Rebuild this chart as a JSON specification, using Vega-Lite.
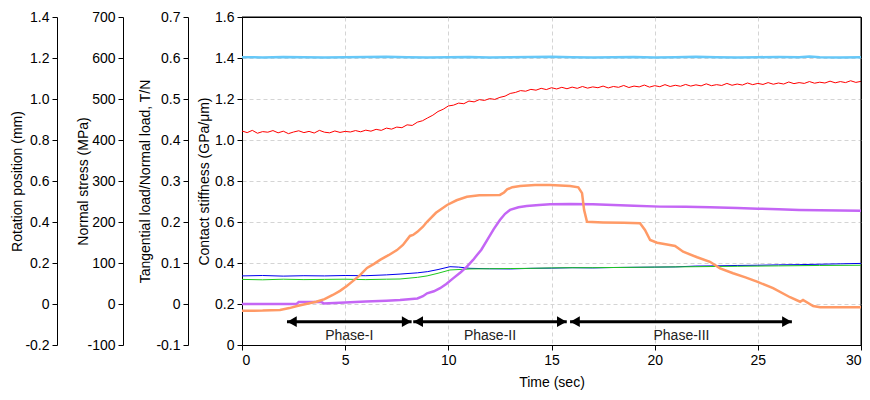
{
  "$schema": "https://vega.github.io/schema/vega-lite/v6.json",
  "width": 619,
  "height": 328,
  "autosize": {"type": "none"},
  "padding": {"left": 242, "top": 17, "right": 9, "bottom": 55},
  "background": "white",
  "view": {"stroke": "#000000", "strokeWidth": 1},
  "config": {
    "view": {"stroke": "#000000", "strokeWidth": 1},
    "font": "Liberation Sans",
    "axis": {
      "labelFont": "Liberation Sans", "titleFont": "Liberation Sans",
      "labelFontSize": 14, "titleFontSize": 14, "titleFontWeight": "normal",
      "labelColor": "#000000", "titleColor": "#000000",
      "domainColor": "#000000", "tickColor": "#000000",
      "tickSize": 5, "labelPadding": 3,
      "gridColor": "#d4d4d4", "gridDash": [4, 3]
    }
  },
  "datasets": {
    "red": [
      {"t":0,"v":1.044},{"t":0.25,"v":1.036},{"t":0.5,"v":1.047},{"t":0.75,"v":1.033},{"t":1,"v":1.041},{"t":1.25,"v":1.038},{"t":1.5,"v":1.046},{"t":1.75,"v":1.035},
      {"t":2,"v":1.043},{"t":2.25,"v":1.031},{"t":2.5,"v":1.039},{"t":2.75,"v":1.045},{"t":3,"v":1.036},{"t":3.25,"v":1.042},{"t":3.5,"v":1.034},{"t":3.75,"v":1.047},
      {"t":4,"v":1.038},{"t":4.25,"v":1.035},{"t":4.5,"v":1.044},{"t":4.75,"v":1.037},{"t":5,"v":1.042},{"t":5.25,"v":1.039},{"t":5.5,"v":1.046},{"t":5.75,"v":1.040},
      {"t":6,"v":1.048},{"t":6.25,"v":1.043},{"t":6.5,"v":1.052},{"t":6.75,"v":1.047},{"t":7,"v":1.058},{"t":7.25,"v":1.053},{"t":7.5,"v":1.063},{"t":7.75,"v":1.060},
      {"t":8,"v":1.074},{"t":8.25,"v":1.071},{"t":8.5,"v":1.087},{"t":8.75,"v":1.094},{"t":9,"v":1.108},{"t":9.25,"v":1.121},{"t":9.5,"v":1.139},{"t":9.75,"v":1.150},
      {"t":10,"v":1.166},{"t":10.25,"v":1.170},{"t":10.5,"v":1.180},{"t":10.75,"v":1.177},{"t":11,"v":1.190},{"t":11.25,"v":1.186},{"t":11.5,"v":1.197},{"t":11.75,"v":1.193},
      {"t":12,"v":1.202},{"t":12.25,"v":1.198},{"t":12.5,"v":1.208},{"t":12.75,"v":1.214},{"t":13,"v":1.227},{"t":13.25,"v":1.232},{"t":13.5,"v":1.241},{"t":13.75,"v":1.238},
      {"t":14,"v":1.247},{"t":14.25,"v":1.243},{"t":14.5,"v":1.252},{"t":14.75,"v":1.246},{"t":15,"v":1.255},{"t":15.25,"v":1.249},{"t":15.5,"v":1.257},{"t":15.75,"v":1.250},
      {"t":16,"v":1.258},{"t":16.25,"v":1.252},{"t":16.5,"v":1.261},{"t":16.75,"v":1.253},{"t":17,"v":1.259},{"t":17.25,"v":1.255},{"t":17.5,"v":1.263},{"t":17.75,"v":1.254},
      {"t":18,"v":1.261},{"t":18.25,"v":1.257},{"t":18.5,"v":1.266},{"t":18.75,"v":1.256},{"t":19,"v":1.263},{"t":19.25,"v":1.259},{"t":19.5,"v":1.268},{"t":19.75,"v":1.258},
      {"t":20,"v":1.265},{"t":20.25,"v":1.260},{"t":20.5,"v":1.270},{"t":20.75,"v":1.261},{"t":21,"v":1.267},{"t":21.25,"v":1.262},{"t":21.5,"v":1.271},{"t":21.75,"v":1.263},
      {"t":22,"v":1.269},{"t":22.25,"v":1.264},{"t":22.5,"v":1.274},{"t":22.75,"v":1.265},{"t":23,"v":1.270},{"t":23.25,"v":1.266},{"t":23.5,"v":1.276},{"t":23.75,"v":1.267},
      {"t":24,"v":1.273},{"t":24.25,"v":1.268},{"t":24.5,"v":1.278},{"t":24.75,"v":1.270},{"t":25,"v":1.276},{"t":25.25,"v":1.271},{"t":25.5,"v":1.280},{"t":25.75,"v":1.272},
      {"t":26,"v":1.278},{"t":26.25,"v":1.273},{"t":26.5,"v":1.283},{"t":26.75,"v":1.275},{"t":27,"v":1.280},{"t":27.25,"v":1.276},{"t":27.5,"v":1.285},{"t":27.75,"v":1.277},
      {"t":28,"v":1.282},{"t":28.25,"v":1.278},{"t":28.5,"v":1.287},{"t":28.75,"v":1.279},{"t":29,"v":1.285},{"t":29.25,"v":1.280},{"t":29.5,"v":1.289},{"t":29.75,"v":1.281},
      {"t":30,"v":1.286}
    ],
    "blue": [
      {"t":0,"v":0.337},{"t":1,"v":0.339},{"t":2,"v":0.336},{"t":3,"v":0.338},{"t":4,"v":0.337},{"t":5,"v":0.339},{"t":6,"v":0.338},{"t":7,"v":0.342},
      {"t":7.66,"v":0.346},{"t":8.5,"v":0.352},{"t":9,"v":0.358},{"t":9.5,"v":0.368},{"t":10.08,"v":0.382},{"t":10.5,"v":0.380},{"t":11.05,"v":0.374},{"t":12,"v":0.372},
      {"t":13,"v":0.371},{"t":14,"v":0.374},{"t":15,"v":0.375},{"t":16,"v":0.377},{"t":17,"v":0.376},{"t":18,"v":0.378},{"t":19,"v":0.379},{"t":20,"v":0.380},
      {"t":21,"v":0.381},{"t":22,"v":0.385},{"t":23,"v":0.386},{"t":24,"v":0.388},{"t":25,"v":0.389},{"t":26,"v":0.391},{"t":27,"v":0.392},{"t":28,"v":0.394},
      {"t":29,"v":0.396},{"t":30,"v":0.398}
    ],
    "green": [
      {"t":0,"v":0.320},{"t":1,"v":0.318},{"t":2,"v":0.321},{"t":3,"v":0.319},{"t":4,"v":0.320},{"t":5,"v":0.321},{"t":6,"v":0.319},{"t":7,"v":0.321},
      {"t":7.66,"v":0.322},{"t":8.5,"v":0.330},{"t":8.97,"v":0.337},{"t":9.5,"v":0.350},{"t":10.08,"v":0.366},{"t":11.05,"v":0.371},{"t":12,"v":0.372},{"t":13,"v":0.373},
      {"t":14,"v":0.374},{"t":15,"v":0.376},{"t":16,"v":0.377},{"t":17,"v":0.377},{"t":18,"v":0.378},{"t":19,"v":0.379},{"t":20,"v":0.380},{"t":22,"v":0.382},
      {"t":24,"v":0.384},{"t":26,"v":0.386},{"t":28,"v":0.388},{"t":30,"v":0.389}
    ],
    "stress": [
      {"t":0,"v":602},{"t":1,"v":601.5},{"t":2,"v":602.5},{"t":3,"v":602},{"t":4,"v":601},{"t":5,"v":602},{"t":6,"v":602.5},{"t":7,"v":603},
      {"t":8,"v":602},{"t":9,"v":601.5},{"t":10,"v":602},{"t":11,"v":602.5},{"t":12,"v":601},{"t":13,"v":602},{"t":14,"v":602.5},{"t":15,"v":603},
      {"t":16,"v":602},{"t":17,"v":601.5},{"t":18,"v":602},{"t":19,"v":602.5},{"t":20,"v":601.5},{"t":21,"v":602},{"t":22,"v":603},{"t":23,"v":602},
      {"t":24,"v":601.5},{"t":25,"v":602},{"t":26,"v":602.5},{"t":27,"v":602},{"t":27.5,"v":603.5},{"t":28,"v":602},{"t":29,"v":601.5},{"t":30,"v":602}
    ],
    "ratio": [
      {"t":0,"v":-0.0165},{"t":1,"v":-0.016},{"t":1.84,"v":-0.0145},{"t":2.3,"v":-0.01},{"t":2.67,"v":-0.005},{"t":3.1,"v":0.0},{"t":3.6,"v":0.0055},{"t":4,"v":0.012},
      {"t":4.4,"v":0.022},{"t":4.75,"v":0.032},{"t":5.08,"v":0.044},{"t":5.4,"v":0.057},{"t":5.72,"v":0.0705},{"t":6.06,"v":0.088},{"t":6.4,"v":0.098},{"t":6.69,"v":0.1075},
      {"t":7.1,"v":0.119},{"t":7.51,"v":0.1315},{"t":7.8,"v":0.144},{"t":8.14,"v":0.166},{"t":8.29,"v":0.1685},{"t":8.5,"v":0.176},{"t":8.77,"v":0.1885},{"t":8.97,"v":0.2005},
      {"t":9.4,"v":0.2225},{"t":9.94,"v":0.2415},{"t":10.4,"v":0.253},{"t":10.9,"v":0.2615},{"t":11.5,"v":0.265},{"t":12.5,"v":0.266},{"t":12.7,"v":0.272},{"t":12.85,"v":0.2795},
      {"t":13.1,"v":0.285},{"t":13.48,"v":0.288},{"t":14.2,"v":0.29},{"t":14.93,"v":0.29},{"t":15.9,"v":0.288},{"t":16.3,"v":0.2845},{"t":16.48,"v":0.2705},{"t":16.58,"v":0.2295},
      {"t":16.72,"v":0.2005},{"t":17.5,"v":0.199},{"t":18.5,"v":0.198},{"t":19.29,"v":0.197},{"t":19.53,"v":0.1805},{"t":19.78,"v":0.156},{"t":20.12,"v":0.1495},{"t":20.6,"v":0.145},
      {"t":20.99,"v":0.1415},{"t":21.38,"v":0.1275},{"t":22.06,"v":0.114},{"t":22.68,"v":0.103},{"t":23.17,"v":0.087},{"t":23.8,"v":0.075},{"t":24.4,"v":0.065},{"t":24.96,"v":0.0545},
      {"t":25.74,"v":0.0385},{"t":26.56,"v":0.0165},{"t":27.05,"v":0.0055},{"t":27.19,"v":0.01},{"t":27.68,"v":-0.005},{"t":28.02,"v":-0.008},{"t":29,"v":-0.008},{"t":30,"v":-0.008}
    ],
    "rotation": [
      {"t":0,"v":0.0},{"t":1,"v":0.0},{"t":2,"v":0.0},{"t":2.65,"v":0.0},{"t":2.75,"v":0.01},{"t":3.3,"v":0.01},{"t":3.85,"v":0.01},{"t":3.95,"v":0.003},
      {"t":5,"v":0.007},{"t":6,"v":0.012},{"t":7,"v":0.016},{"t":7.66,"v":0.02},{"t":8.5,"v":0.027},{"t":8.77,"v":0.038},{"t":8.97,"v":0.052},{"t":9.3,"v":0.062},
      {"t":9.6,"v":0.077},{"t":9.9,"v":0.098},{"t":10.23,"v":0.125},{"t":10.6,"v":0.155},{"t":10.9,"v":0.182},{"t":11.2,"v":0.215},{"t":11.39,"v":0.239},{"t":11.6,"v":0.265},
      {"t":11.88,"v":0.312},{"t":12.2,"v":0.365},{"t":12.5,"v":0.41},{"t":12.75,"v":0.44},{"t":12.99,"v":0.459},{"t":13.4,"v":0.472},{"t":13.8,"v":0.478},{"t":14.4,"v":0.483},
      {"t":14.93,"v":0.486},{"t":15.9,"v":0.488},{"t":17,"v":0.486},{"t":18,"v":0.483},{"t":19,"v":0.479},{"t":20.26,"v":0.475},{"t":21.5,"v":0.474},{"t":22.68,"v":0.472},
      {"t":24,"v":0.468},{"t":25,"v":0.465},{"t":26,"v":0.462},{"t":27,"v":0.459},{"t":28,"v":0.457},{"t":29,"v":0.456},{"t":30,"v":0.455}
    ],
    "phases": [
      {"label":"Phase-I","start":2.18,"end":8.22,"mid":5.2,"ay":0.114,"ty":0.044},
      {"label":"Phase-II","start":8.3,"end":15.74,"mid":12.02,"ay":0.114,"ty":0.044},
      {"label":"Phase-III","start":15.9,"end":26.65,"mid":21.3,"ay":0.114,"ty":0.044}
    ]
  },
  "layer": [
    {
      "data": {"name": "red"},
      "mark": {"type": "line", "color": "#ff0000", "strokeWidth": 1},
      "encoding": {
        "x": {"field": "t", "type": "quantitative", "scale": {"domain": [0, 30], "nice": false},
              "axis": {"title": "Time (sec)", "values": [0,5,10,15,20,25,30], "format": "d", "grid": true, "titlePadding": 8,
                       "gridOpacity": {"condition": {"test": "datum.value == 0 || datum.value == 30", "value": 0}, "value": 1}}},
        "y": {"field": "v", "type": "quantitative", "scale": {"domain": [0, 1.6], "nice": false, "zero": false},
              "axis": {"title": "Contact stiffness (GPa/μm)", "orient": "left", "offset": 0, "grid": true,
                       "values": [0,0.2,0.4,0.6,0.8,1.0,1.2,1.4,1.6],
                       "gridOpacity": {"condition": {"test": "datum.value == 0 || datum.value == 1.6", "value": 0}, "value": 1},
                       "labelExpr": "datum.value == 0 ? '0' : format(datum.value, '.1f')", "titlePadding": 3}}
      }
    },
    {
      "data": {"values": [{}]},
      "mark": {"type": "rule", "color": "#000000", "strokeWidth": 1},
      "encoding": {
        "y": {"datum": 1.6, "type": "quantitative", "scale": {"domain": [0, 1.6], "nice": false, "zero": false}, "axis": null}
      }
    },
    {
      "data": {"values": [{}]},
      "mark": {"type": "rule", "color": "#000000", "strokeWidth": 1},
      "encoding": {
        "x": {"datum": 30, "type": "quantitative", "title": "Time (sec)"}
      }
    },
    {
      "data": {"name": "blue"},
      "mark": {"type": "line", "color": "#0000ee", "strokeWidth": 1},
      "encoding": {
        "x": {"field": "t", "type": "quantitative", "title": "Time (sec)"},
        "y": {"field": "v", "type": "quantitative", "scale": {"domain": [0, 1.6], "nice": false, "zero": false}, "axis": null}
      }
    },
    {
      "data": {"name": "green"},
      "mark": {"type": "line", "color": "#1ec81e", "strokeWidth": 1},
      "encoding": {
        "x": {"field": "t", "type": "quantitative", "title": "Time (sec)"},
        "y": {"field": "v", "type": "quantitative", "scale": {"domain": [0, 1.6], "nice": false, "zero": false}, "axis": null}
      }
    },
    {
      "data": {"name": "phases"},
      "mark": {"type": "rule", "color": "#000000", "strokeWidth": 3},
      "encoding": {
        "x": {"field": "start", "type": "quantitative", "title": "Time (sec)"},
        "x2": {"field": "end"},
        "y": {"field": "ay", "type": "quantitative", "scale": {"domain": [0, 1.6], "nice": false, "zero": false}, "axis": null}
      }
    },
    {
      "data": {"name": "phases"},
      "mark": {"type": "point", "shape": "triangle-left", "filled": true, "color": "#000000", "size": 120, "opacity": 1, "xOffset": 5},
      "encoding": {
        "x": {"field": "start", "type": "quantitative", "title": "Time (sec)"},
        "y": {"field": "ay", "type": "quantitative", "scale": {"domain": [0, 1.6], "nice": false, "zero": false}, "axis": null}
      }
    },
    {
      "data": {"name": "phases"},
      "mark": {"type": "point", "shape": "triangle-right", "filled": true, "color": "#000000", "size": 120, "opacity": 1, "xOffset": -5},
      "encoding": {
        "x": {"field": "end", "type": "quantitative", "title": "Time (sec)"},
        "y": {"field": "ay", "type": "quantitative", "scale": {"domain": [0, 1.6], "nice": false, "zero": false}, "axis": null}
      }
    },
    {
      "data": {"name": "phases"},
      "mark": {"type": "text", "font": "Liberation Sans", "fontSize": 14, "color": "#222222", "baseline": "middle", "align": "center"},
      "encoding": {
        "x": {"field": "mid", "type": "quantitative", "title": "Time (sec)"},
        "y": {"field": "ty", "type": "quantitative", "scale": {"domain": [0, 1.6], "nice": false, "zero": false}, "axis": null},
        "text": {"field": "label"}
      }
    },
    {
      "data": {"name": "stress"},
      "mark": {"type": "line", "color": "#66c8f8", "strokeWidth": 2.5},
      "encoding": {
        "x": {"field": "t", "type": "quantitative", "title": "Time (sec)"},
        "y": {"field": "v", "type": "quantitative", "scale": {"domain": [-100, 700], "nice": false, "zero": false},
              "axis": {"title": "Normal stress (MPa)", "orient": "left", "offset": 119, "grid": false,
                       "values": [-100,0,100,200,300,400,500,600,700],
                       "labelExpr": "datum.value < 0 ? '-' + format(abs(datum.value), 'd') : format(datum.value, 'd')", "titlePadding": -4}}
      }
    },
    {
      "data": {"name": "rotation"},
      "mark": {"type": "line", "color": "#c466f5", "strokeWidth": 2.5},
      "encoding": {
        "x": {"field": "t", "type": "quantitative", "title": "Time (sec)"},
        "y": {"field": "v", "type": "quantitative", "scale": {"domain": [-0.2, 1.4], "nice": false, "zero": false},
              "axis": {"title": "Rotation position (mm)", "orient": "left", "offset": 185, "grid": false,
                       "values": [-0.2,0,0.2,0.4,0.6,0.8,1.0,1.2,1.4],
                       "labelExpr": "datum.value == 0 ? '0' : (datum.value < 0 ? '-' : '') + format(abs(datum.value), '.1f')", "titlePadding": 0}}
      }
    },
    {
      "data": {"name": "ratio"},
      "mark": {"type": "line", "color": "#ff9a66", "strokeWidth": 2.5},
      "encoding": {
        "x": {"field": "t", "type": "quantitative", "title": "Time (sec)"},
        "y": {"field": "v", "type": "quantitative", "scale": {"domain": [-0.1, 0.7], "nice": false, "zero": false},
              "axis": {"title": "Tangential load/Normal load, T/N", "orient": "left", "offset": 54, "grid": false,
                       "values": [-0.1,0,0.1,0.2,0.3,0.4,0.5,0.6,0.7],
                       "labelExpr": "datum.value == 0 ? '0' : (datum.value < 0 ? '-' : '') + format(abs(datum.value), '.1f')", "titlePadding": 3}}
      }
    }
  ],
  "resolve": {"scale": {"y": "independent"}}
}
